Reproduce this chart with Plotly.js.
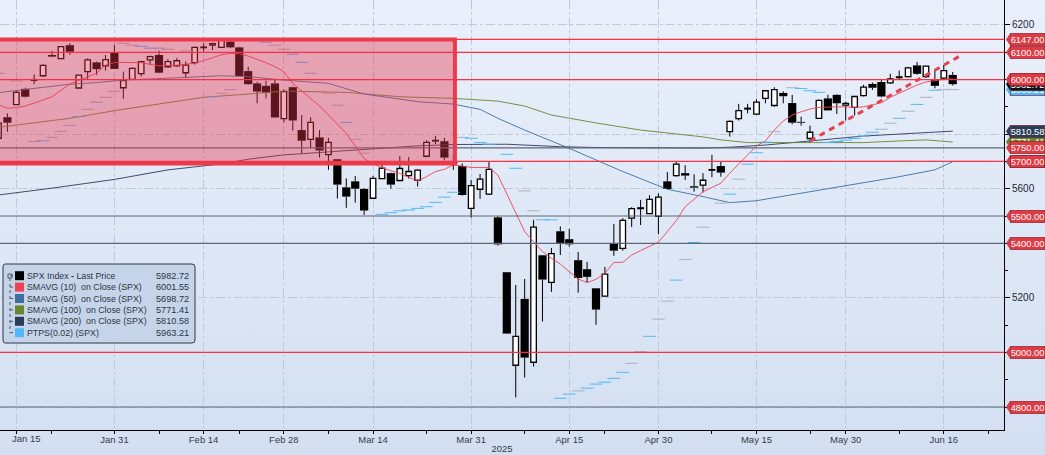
<!DOCTYPE html>
<html>
<head>
<meta charset="utf-8">
<script src="https://cdn.plot.ly/plotly-3.0.1.min.js"></script>
<style>
  html, body { margin: 0; padding: 0; }
  #myDiv { width: 1045px; height: 455px; background: linear-gradient(#eaf0fb, #d3dff1); }
</style>
</head>
<body>
<div id="myDiv"></div>
<script>
const dates = ['Jan 13','Jan 14','Jan 15','Jan 16','Jan 17','Jan 21','Jan 22','Jan 23','Jan 24','Jan 27','Jan 28','Jan 29','Jan 30','Jan 31',
  'Feb 3','Feb 4','Feb 5','Feb 6','Feb 7','Feb 10','Feb 11','Feb 12','Feb 13','Feb 14','Feb 18','Feb 19','Feb 20','Feb 21','Feb 24','Feb 25','Feb 26','Feb 27','Feb 28',
  'Mar 3','Mar 4','Mar 5','Mar 6','Mar 7','Mar 10','Mar 11','Mar 12','Mar 13','Mar 14','Mar 17','Mar 18','Mar 19','Mar 20','Mar 21','Mar 24','Mar 25','Mar 26','Mar 27','Mar 28','Mar 31',
  'Apr 1','Apr 2','Apr 3','Apr 4','Apr 7','Apr 8','Apr 9','Apr 10','Apr 11','Apr 14','Apr 15','Apr 16','Apr 17','Apr 21','Apr 22','Apr 23','Apr 24','Apr 25','Apr 28','Apr 29','Apr 30',
  'May 1','May 2','May 5','May 6','May 7','May 8','May 9','May 12','May 13','May 14','May 15','May 16','May 19','May 20','May 21','May 22','May 23','May 27','May 28','May 29','May 30',
  'Jun 2','Jun 3','Jun 4','Jun 5','Jun 6','Jun 9','Jun 10','Jun 11','Jun 12','Jun 13','Jun 16','Jun 17'];

const opens = [5785,5862,5908,5966,5997,6014,6090,6077,6126,5969,6029,6063,6050,6100,5970,6001,6022,6072,6090,6047,6050,6025,6062,6117,6126,6118,6139,6118,6031,5986,5977,5986,5857,
  5972,5815,5781,5788,5725,5708,5605,5627,5599,5565,5637,5657,5630,5648,5631,5719,5775,5774,5701,5683,5528,
  5598,5580,5495,5294,4953,5196,4964,5356,5257,5444,5415,5338,5305,5235,5206,5398,5381,5492,5527,5509,5499,
  5627,5648,5657,5609,5613,5668,5683,5809,5857,5892,5873,5931,5905,5951,5914,5845,5784,5858,5931,5944,5906,
  5898,5941,5984,5991,5988,6007,6011,6052,6011,6001,6005,6017];
const highs = [5842,5876,5959,5970,6019,6056,6105,6123,6133,6017,6078,6066,6090,6127,6029,6044,6068,6088,6106,6075,6079,6066,6121,6133,6135,6152,6145,6120,6047,5992,5995,5999,5964,
  5974,5870,5862,5815,5786,5708,5638,5647,5602,5647,5691,5659,5720,5716,5670,5777,5793,5786,5724,5693,5632,
  5654,5698,5500,5295,5247,5269,5486,5357,5383,5462,5453,5368,5332,5236,5313,5471,5492,5532,5559,5576,5583,
  5661,5699,5686,5653,5657,5724,5698,5850,5911,5911,5928,5962,5972,5957,5944,5864,5831,5927,5944,5946,5919,
  5940,5981,5989,6001,6021,6033,6047,6065,6050,6033,6054,6028];
const lows = [5780,5809,5907,5934,5983,6011,6082,6076,6091,5968,6001,6017,6033,6038,5930,5998,6011,6053,6023,6045,6047,6005,6055,6102,6108,6117,6115,6012,5981,5913,5931,5860,5843,
  5813,5730,5748,5714,5669,5564,5530,5549,5504,5564,5635,5600,5627,5637,5608,5716,5764,5705,5669,5575,5494,
  5563,5577,5392,5068,4835,4908,4948,5113,5222,5357,5388,5219,5256,5101,5204,5354,5373,5460,5467,5508,5434,
  5598,5644,5632,5589,5586,5642,5644,5791,5850,5876,5870,5913,5901,5913,5836,5831,5769,5857,5886,5874,5850,
  5868,5938,5962,5935,5984,5999,6008,6017,6006,5968,5999,5978];
const closes = [5840,5842,5953,5937,6000,6052,6084,6121,6102,6016,6072,6038,6073,6039,5996,6041,6066,6084,6025,6066,6069,6053,6118,6119,6132,6148,6118,6013,5983,5956,5952,5861,5956,
  5850,5776,5843,5740,5770,5615,5571,5600,5520,5638,5675,5615,5674,5663,5668,5770,5777,5714,5692,5577,5611,
  5635,5671,5396,5069,5059,4981,5459,5267,5362,5401,5396,5273,5277,5157,5287,5373,5484,5527,5530,5561,5569,
  5599,5690,5648,5604,5631,5670,5659,5847,5886,5895,5917,5959,5963,5939,5842,5842,5807,5924,5887,5913,5913,
  5938,5972,5970,5938,6002,6010,6043,6021,6049,5977,6033,5983];

// day numbers count trading days from Jan 15 (the first date sits at day -2)
const firstDay = -2;
const sma10Days = [-2,-1,0,1,3,4,6,8,9,10,11,12,14,16,18,20,21,22,23,24,25,26,27,28,29,30,31,32,33,34,35,36,37,38,39,40,41,42,43,44,45,46,47,48,49,50,51,52,53,54,55,56,57,58,59,60,61,62,63,64,65,66,67,68,69,70,71,72,73,74,75,76,77,78,79,80,81,82,83,84,85,86,87,88,89,90,91,92,93,94,95,96,97,98,99,100,101,102,103,104,105];
const sma10 = [5907,5895,5897,5903,5925,5937,5984,6011,6023,6053,6062,6063,6062,6050,6053,6060,6069,6080,6091,6096,6094,6086,6074,6062,6047,6029,5986,5959,5931,5903,5870,5837,5803,5757,5711,5691,5677,5666,5656,5642,5628,5644,5663,5671,5687,5683,5678,5678,5678,5650,5583,5510,5443,5406,5370,5345,5324,5296,5269,5256,5268,5290,5330,5330,5357,5373,5388,5404,5443,5483,5534,5561,5589,5605,5620,5657,5691,5724,5757,5775,5815,5848,5870,5882,5892,5898,5900,5900,5900,5898,5900,5907,5915,5935,5950,5966,5980,5991,5996,6001,6002];
const sma50Days = [-2,2,6,9,12,17,21,23,26,30,35,39,45,49,52,54,57,62,68,73,77,80,83,88,93,99,103,105];
const sma50 = [5952,5968,5983,5989,5998,6005,6011,6014,6011,5998,5986,5947,5919,5910,5891,5858,5815,5748,5663,5598,5571,5549,5556,5583,5610,5644,5669,5699];
const sma100Days = [-2,6,11,17,21,26,30,37,43,49,54,57,60,65,70,77,79,82,88,95,99,102,105];
const sma100 = [5825,5858,5886,5915,5935,5947,5958,5953,5937,5931,5921,5903,5870,5841,5815,5790,5779,5769,5769,5769,5775,5779,5771];
const sma200Days = [-2,4,11,17,23,26,30,37,45,49,55,61,65,77,80,84,88,95,105];
const sma200 = [5577,5602,5634,5669,5691,5708,5724,5740,5757,5762,5763,5754,5751,5749,5752,5760,5773,5793,5811];

const ptpsDays = [-2,0,2,3,4,5,6,7,8,9,10,11,12,13,14,15,16,17,19,22,23,24,28,29,30,31,32,33,35,36,37,38,39,41,42,43,44,45,46,47,48,49,50,51,52,53,55,56,57,58,59,60,61,62,63,64,65,66,67,68,69,70,71,72,73,74,75,76,77,79,80,81,82,83,84,85,87,88,89,90,91,92,93,94,95,96,97,98,99,100,101,102,103,104,105];
const ptps = [6023,5995,5773,5776,5788,5810,5832,5864,5891,5917,5935,5957,6133,6126,6122,6115,6115,6111,6105,5937,5950,5963,6137,6126,6111,6093,6063,6023,5950,5906,5843,5781,5730,5506,5512,5519,5522,5528,5534,5550,5569,5587,5788,5785,5769,5763,5726,5675,5592,5519,5486,5486,4832,4847,4859,4869,4884,4891,4905,4927,4960,5003,5059,5122,5188,5265,5341,5403,5459,5547,5580,5635,5690,5732,5771,5809,5970,5967,5959,5953,5770,5773,5778,5784,5793,5807,5818,5840,5858,5884,5909,5935,5961,5964,5963];

const trendDays = [89, 106];
const trendValues = [5775, 6090];

const tickDates = ['Jan 15','Jan 31','Feb 14','Feb 28','Mar 14','Mar 31','Apr 15','Apr 30','May 15','May 30','Jun 16'];
const minorDays = [4,16,25,35,46,57,66,78,89,99,109];
const priceTicks = [4800,5000,5200,5400,5600,5800,6000,6200];
const priceTickText = ['','','5200','','5600','','','6200'];

const redLevels = [6147,6100,6000,5700,5000];
const greyLevels = [5750,5500,5400,4800];

const legendNames = ['SPX Index <b>-</b> Last Price','SMAVG (10)&nbsp; on Close (SPX)','SMAVG (50)&nbsp; on Close (SPX)','SMAVG (100)&nbsp; on Close (SPX)','SMAVG (200)&nbsp; on Close (SPX)','PTPS(0.02) (SPX)'];
const legendValues = ['5982.72','6001.55','5698.72','5771.41','5810.58','5963.21'];

const RED = '#f04252', STEEL = '#3f6f9e', OLIVE = '#66862e', NAVY = '#2b3c58', SKY = '#4fb9fb', GREY = '#a9b1bd', TAGRED = '#e03a44';
const legendColors = ['#000000', RED, STEEL, OLIVE, NAVY, SKY];
// bottom-most first, later tags cover earlier ones
const priceTags = [
  {v: 5963.21, c: SKY}, {v: 5982.72, c: '#111111'}, {v: 6001.55, c: RED}, {v: 5698.72, c: STEEL}, {v: 5771.41, c: OLIVE}, {v: 5810.58, c: NAVY},
  {v: 6147, c: TAGRED}, {v: 6100, c: TAGRED}, {v: 6000, c: TAGRED}, {v: 5750, c: TAGRED}, {v: 5700, c: TAGRED},
  {v: 5500, c: TAGRED}, {v: 5400, c: TAGRED}, {v: 5000, c: TAGRED}, {v: 4800, c: TAGRED}
];
const fadedPtps = [-2,0,2,4,5,6,8,10,11,12,13,17,19,23,24,29,30,33,35,36,38,39,50,57,58,63,69,70,72,73,75,77,79,81,85,87,97,98,100,102,104,105];

const TEXT = '"Liberation Sans", sans-serif';
const plotW = 1004, plotH = 430;

let days = dates.map((d, i) => i + firstDay);
let upDays = [], upBase = [], upSize = [], downDays = [], downBase = [], downSize = [];
let wickX = [], wickY = [];
days.forEach((day, i) => {
  let top = Math.max(opens[i], closes[i]);
  let bottom = Math.min(opens[i], closes[i]);
  if (closes[i] >= opens[i]) {
    upDays.push(day); upBase.push(bottom); upSize.push(top - bottom);
  } else {
    downDays.push(day); downBase.push(bottom); downSize.push(top - bottom);
  }
  wickX.push(day, day, null, day, day, null);
  wickY.push(highs[i], top, null, bottom, lows[i], null);
});

const smaLine = (x, y, color, name) => ({x: x, y: y, type: 'scatter', mode: 'lines', name: name, opacity: 0.9, line: {color: color, width: 1}});

let ptpsColors = ptpsDays.map(d => fadedPtps.includes(d) ? GREY : SKY);

let traces = [
  {x: upDays, y: upSize, base: upBase, type: 'bar', width: 0.62, marker: {color: '#ffffff', line: {color: '#000000', width: 1.3}}},
  {x: downDays, y: downSize, base: downBase, type: 'bar', width: 0.92, marker: {color: '#000000', line: {color: '#000000', width: 0}}},
  {x: wickX, y: wickY, type: 'scatter', mode: 'lines', line: {color: '#000000', width: 1}},
  smaLine(sma200Days, sma200, NAVY, 'SMAVG (200)'),
  smaLine(sma100Days, sma100, OLIVE, 'SMAVG (100)'),
  smaLine(sma50Days, sma50, STEEL, 'SMAVG (50)'),
  smaLine(sma10Days, sma10, RED, 'SMAVG (10)'),
  {x: ptpsDays, y: ptps, type: 'scatter', mode: 'markers', marker: {symbol: 'line-ew', size: 9, color: ptpsColors, line: {color: ptpsColors, width: 1}}},
  {x: trendDays, y: trendValues, type: 'scatter', mode: 'lines', line: {color: '#e8404f', width: 3, dash: '6px,5px'}}
];

let shapes = [];
redLevels.forEach(v => shapes.push({type: 'line', xref: 'paper', x0: 0, x1: 1, yref: 'y', y0: v, y1: v, line: {color: '#ff2f3e', width: 1.3}}));
greyLevels.forEach(v => shapes.push({type: 'line', xref: 'paper', x0: 0, x1: 1, yref: 'y', y0: v, y1: v, line: {color: '#5d6677', width: 1.2}}));

// big red box
shapes.push({type: 'rect', layer: 'above', xref: 'x', yref: 'y', x0: -4, x1: dates.indexOf('Mar 27') + firstDay + 0.18, y0: 5692, y1: 6147,
  fillcolor: 'rgba(230,50,75,0.4)', line: {color: '#ec3a4a', width: 4}});

// little pointers on the price tags
priceTags.forEach(t => shapes.push({type: 'path', xref: 'paper', yref: 'y', xsizemode: 'pixel', ysizemode: 'pixel', xanchor: 1, yanchor: t.v,
  path: 'M2,0 L6,6 L6,-6 Z', fillcolor: t.c, line: {width: 0}}));

// legend panel, pixel offsets from the top left corner of the plot
const panel = {xref: 'paper', yref: 'paper', xsizemode: 'pixel', ysizemode: 'pixel', xanchor: 0, yanchor: 1};
shapes.push({...panel, type: 'path', path: 'M5,-264 L192,-264 Q195,-264 195,-267 L195,-340 Q195,-343 192,-343 L5,-343 Q3,-343 3,-340 L3,-267 Q3,-264 5,-264 Z',
  fillcolor: '#c6d4e9', line: {color: '#2d3646', width: 1}});
shapes.push({...panel, type: 'rect', x0: 8, x1: 12, y0: -274, y1: -278, fillcolor: '#c6d4e9', line: {color: '#4a5568', width: 1}});
shapes.push({...panel, type: 'line', x0: 10, x1: 10, y0: -278, y1: -333, line: {color: '#4a5568', width: 1, dash: 'dot'}});
legendColors.forEach((c, i) => {
  let row = 275.7 + i * 11.4;
  shapes.push({...panel, type: 'line', x0: 10, x1: 15, y0: -row, y1: -row, line: {color: '#4a5568', width: 1, dash: 'dot'}});
  shapes.push({...panel, type: 'rect', x0: 15, x1: 24, y0: -row + 4.5, y1: -row - 4.5, fillcolor: c, line: {width: 0}});
});

let annotations = [];
priceTags.forEach(t => annotations.push({x: 1, xref: 'paper', xanchor: 'left', xshift: 6, y: t.v, yref: 'y', yanchor: 'middle', showarrow: false,
  text: t.v.toFixed(2), width: 34, height: 12, bgcolor: t.c, bordercolor: '#7e2229', borderwidth: 0.6, borderpad: 0, align: 'center', font: {family: TEXT, size: 9.4, color: '#ffffff'}}));
legendNames.forEach((name, i) => {
  let yPos = 1 - (275.7 + i * 11.4) / plotH;
  annotations.push({x: 27 / plotW, xref: 'paper', xanchor: 'left', xshift: -2, y: yPos, yref: 'paper', yanchor: 'middle', showarrow: false,
    text: name, font: {family: TEXT, size: 8.8, color: '#2a3444'}});
  annotations.push({x: 190 / plotW, xref: 'paper', xanchor: 'right', xshift: 1, y: yPos, yref: 'paper', yanchor: 'middle', showarrow: false,
    text: legendValues[i], font: {family: TEXT, size: 9.2, color: '#2a3444'}});
});
// the first date label sits to the right of its tick
annotations.push({x: 26.7 / plotW, xref: 'paper', xanchor: 'center', y: 0, yref: 'paper', yanchor: 'top', yshift: -1, showarrow: false,
  text: tickDates[0], font: {family: TEXT, size: 9.5, color: '#333b4a'}});

let layout = {
  width: 1045,
  height: 455,
  margin: {l: 0, r: 41, t: 0, b: 25, pad: 0},
  paper_bgcolor: 'rgba(0,0,0,0)',
  plot_bgcolor: 'rgba(0,0,0,0)',
  showlegend: false,
  barmode: 'overlay',
  font: {family: TEXT, size: 9.5, color: '#333b4a'},
  xaxis: {
    range: [-1.83, 110.75],
    tickmode: 'array',
    tickvals: tickDates.map(d => dates.indexOf(d) + firstDay),
    ticktext: tickDates.map((d, i) => i === 0 ? '' : d),
    ticklabelstandoff: -2,
    ticks: 'outside',
    ticklen: 3,
    tickcolor: '#000000',
    showgrid: true,
    gridcolor: '#c0c9d8',
    griddash: 'dashdot',
    zeroline: false,
    showline: true,
    linecolor: '#000000',
    linewidth: 1,
    minor: {tickmode: 'array', tickvals: minorDays, ticks: 'outside', ticklen: 3, tickcolor: '#000000', showgrid: false},
    title: {text: '2025', standoff: 0, font: {family: TEXT, size: 9.5, color: '#333b4a'}}
  },
  yaxis: {
    side: 'right',
    range: [4715.7, 6291.6],
    tickmode: 'array',
    tickvals: priceTicks,
    ticktext: priceTickText,
    ticks: 'outside',
    ticklen: 5,
    tickcolor: '#000000',
    tickfont: {family: TEXT, size: 10, color: '#1e2533'},
    minor: {dtick: 100, tick0: 4800, ticks: 'outside', ticklen: 3, tickcolor: '#000000', showgrid: false},
    showgrid: true,
    gridcolor: '#c0c9d8',
    griddash: 'dashdot',
    zeroline: false,
    showline: true,
    linecolor: '#000000',
    linewidth: 1
  },
  shapes: shapes,
  annotations: annotations
};

Plotly.newPlot('myDiv', traces, layout, {displayModeBar: false, staticPlot: true});
</script>
</body>
</html>
